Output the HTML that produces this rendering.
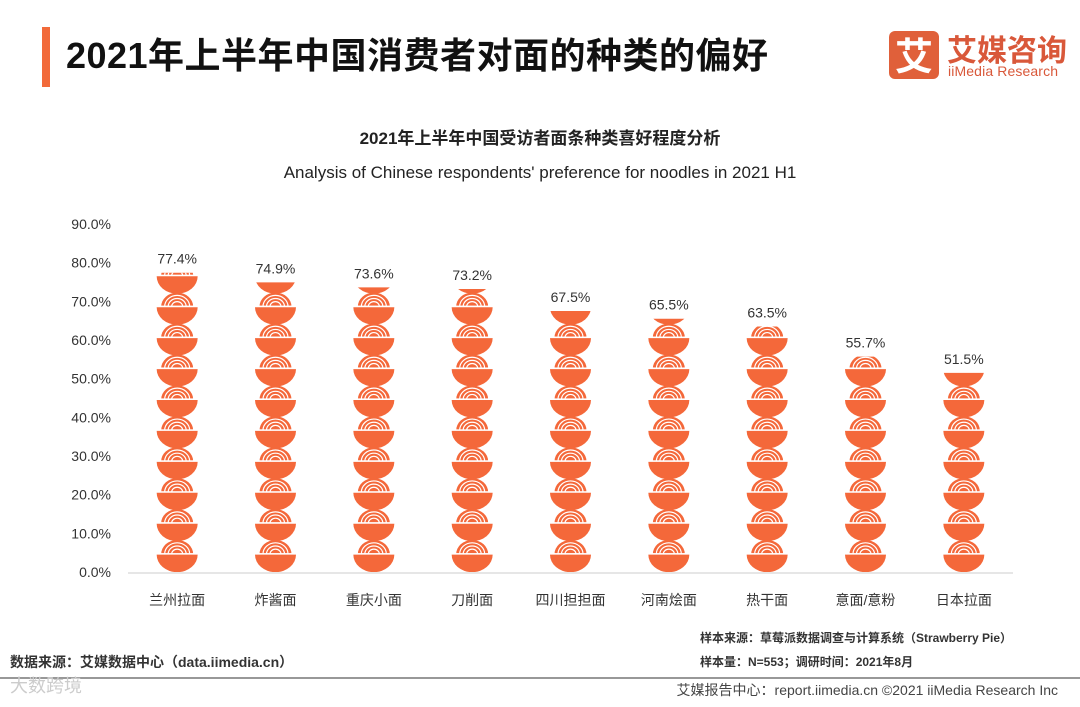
<!DOCTYPE html>
<html><head><meta charset="utf-8"><style>
body{margin:0;background:#fff;width:1080px;height:702px;overflow:hidden;font-family:"Liberation Sans","Noto Sans CJK SC",sans-serif;}
</style></head><body>
<svg id="chart" width="1080" height="702" xmlns="http://www.w3.org/2000/svg" font-family="Liberation Sans, Noto Sans CJK SC, sans-serif">
<rect x="42" y="27" width="8" height="60" fill="#f26a3a"/>
<text x="66" y="68" font-size="36" font-weight="bold" fill="#111" textLength="702">2021年上半年中国消费者对面的种类的偏好</text>
<g>
<rect x="889" y="31" width="50" height="48" rx="6" fill="#e0603a"/>
<text x="914" y="70" font-size="38" font-weight="bold" fill="#fff" text-anchor="middle">艾</text>
<text x="947" y="61" font-size="30" font-weight="bold" fill="#d9583a">艾媒咨询</text>
<text x="948" y="76" font-size="14" fill="#d9583a" textLength="110">iiMedia Research</text>
</g>
<text x="540" y="144" font-size="17" font-weight="bold" fill="#222" text-anchor="middle">2021年上半年中国受访者面条种类喜好程度分析</text>
<text x="540" y="178" font-size="17" fill="#222" text-anchor="middle">Analysis of Chinese respondents' preference for noodles in 2021 H1</text>
<g id="plot"></g>
<text x="10" y="667" font-size="14" font-weight="bold" fill="#333">数据来源：艾媒数据中心（data.iimedia.cn）</text>
<text x="700" y="642" font-size="12" font-weight="bold" fill="#333">样本来源：草莓派数据调查与计算系统（Strawberry Pie）</text>
<text x="700" y="666" font-size="12" font-weight="bold" fill="#333">样本量：N=553；调研时间：2021年8月</text>
<line x1="0" y1="678" x2="1080" y2="678" stroke="#777" stroke-width="1.5"/>
<text x="10" y="692" font-size="18" fill="#ccc">大数跨境</text>
<text x="1058" y="695" font-size="14" fill="#444" text-anchor="end">艾媒报告中心：report.iimedia.cn ©2021  iiMedia Research  Inc</text>
</svg>
<script>
const categories=["兰州拉面","炸酱面","重庆小面","刀削面","四川担担面","河南烩面","热干面","意面/意粉","日本拉面"];
const values=[77.4,74.9,73.6,73.2,67.5,65.5,63.5,55.7,51.5];
const yTicks=[0,10,20,30,40,50,60,70,80,90];
const NS="http://www.w3.org/2000/svg";
const plot=document.getElementById('plot');
const x0=128,x1=1013,yBase=572,yTop=224,yMax=90;
const y=v=>yBase-(v/yMax)*(yBase-yTop);
const band=(x1-x0)/categories.length;
const xc=i=>x0+band*(i+0.5);
function mk(tag,attrs,parent){const e=document.createElementNS(NS,tag);for(const k in attrs)e.setAttribute(k,attrs[k]);(parent||plot).appendChild(e);return e;}
const axis=mk('line',{x1:x0,x2:x1,y1:yBase+1,y2:yBase+1,stroke:'#ccc','stroke-width':1});


yTicks.forEach(t=>{
  const tx=mk('text',{x:111,y:y(t)+5,'font-size':14,fill:'#333','text-anchor':'end'});
  tx.textContent=t.toFixed(1)+'%';
  
  
});
const unitPct=8;
const unitH=(yBase-y(unitPct));
const defs=mk('defs',{});
categories.forEach((c,i)=>{
  const cx=xc(i);
  const cp=mk('clipPath',{id:'cp'+i},defs);
  mk('rect',{x:cx-30,y:y(values[i]),width:60,height:yBase-y(values[i])},cp);
  const g=mk('g',{'clip-path':'url(#cp'+i+')'});
  
  
  const n=Math.ceil(values[i]/unitPct)+1;
  for(let k=0;k<n;k++){
    const b=yBase-unitH*(k+1);
    const rim=b+13;
    mk('path',{d:`M${cx-16} ${rim} A16 14 0 0 1 ${cx+16} ${rim} Z`,fill:'#f4683a'},g);
    [12.5,9,5.5].forEach(r=>mk('path',{d:`M${cx-r} ${rim} A${r} ${r*0.9} 0 0 1 ${cx+r} ${rim}`,fill:'none',stroke:'#fff','stroke-width':1.2},g));
    mk('rect',{x:cx-17,y:rim-1,width:34,height:1.6,fill:'#fff'},g);
    mk('path',{d:`M${cx-20.5} ${rim+0.6} L${cx+20.5} ${rim+0.6} A20.5 17.5 0 0 1 ${cx-20.5} ${rim+0.6} Z`,fill:'#f4683a'},g);
  }
  const vl=mk('text',{x:cx,y:y(values[i])-9,'font-size':14,fill:'#333','text-anchor':'middle'});
  vl.textContent=values[i].toFixed(1)+'%';
  
  
  const cl=mk('text',{x:cx,y:605,'font-size':14,fill:'#333','text-anchor':'middle'});
  cl.textContent=c;
  
  
});
</script>
</body></html>
